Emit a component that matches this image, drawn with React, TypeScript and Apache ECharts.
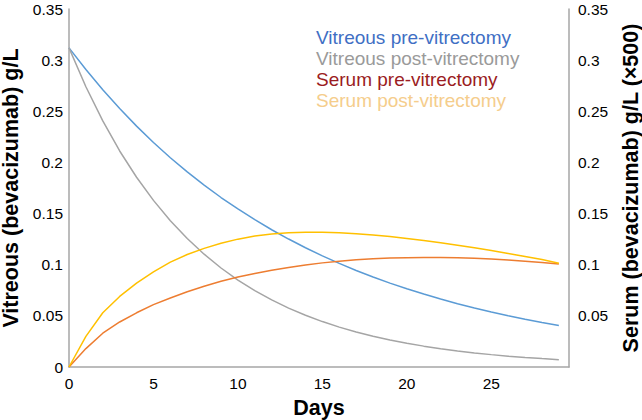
import React, { useEffect, useRef } from "react";
import * as echarts from "echarts";

const days = [0, 1, 2, 3, 4, 5, 6, 7, 8, 9, 10, 11, 12, 13, 14, 15, 16, 17, 18, 19, 20, 21, 22, 23, 24, 25, 26, 27, 28, 29];

const vitreousPre = [0.312, 0.2908, 0.2711, 0.2527, 0.2355, 0.2195, 0.2046, 0.1907, 0.1778, 0.1657, 0.1545, 0.144, 0.1342, 0.1251, 0.1166, 0.1087, 0.1013, 0.0944, 0.088, 0.082, 0.0765, 0.0713, 0.0664, 0.0619, 0.0577, 0.0538, 0.0502, 0.0467, 0.0436, 0.0406];

const vitreousPost = [0.312, 0.274, 0.2406, 0.2112, 0.1855, 0.1629, 0.143, 0.1256, 0.1103, 0.0968, 0.085, 0.0747, 0.0656, 0.0576, 0.0506, 0.0444, 0.039, 0.0342, 0.0301, 0.0264, 0.0232, 0.0204, 0.0179, 0.0157, 0.0138, 0.0121, 0.0106, 0.0093, 0.0082, 0.0072];

const serumPre = [0, 0.018, 0.033, 0.044, 0.053, 0.061, 0.0675, 0.0735, 0.079, 0.0838, 0.088, 0.0915, 0.0945, 0.0973, 0.0997, 0.1018, 0.1035, 0.1049, 0.1058, 0.1065, 0.1069, 0.1071, 0.107, 0.1067, 0.1062, 0.1055, 0.1046, 0.1035, 0.1022, 0.1008];

const serumPost = [0, 0.03, 0.053, 0.069, 0.082, 0.093, 0.1025, 0.11, 0.116, 0.121, 0.125, 0.128, 0.13, 0.1312, 0.1317, 0.1317, 0.1312, 0.1303, 0.129, 0.1275, 0.1257, 0.1237, 0.1215, 0.1191, 0.1165, 0.1138, 0.111, 0.1081, 0.105, 0.1015];

const seriesNames = ["Vitreous pre-vitrectomy", "Vitreous post-vitrectomy", "Serum pre-vitrectomy", "Serum post-vitrectomy"];
const lineColors = ["#5b9bd5", "#a5a5a5", "#ed7d31", "#ffc000"];
const legendColors = ["#3f6fc4", "#9a9a9a", "#9b1c22", "#f5cd8c"];

const FONT = "'Liberation Sans', Arial, sans-serif";

export default function App() {
  const ref = useRef<HTMLDivElement>(null);
  useEffect(() => {
    const chart = echarts.init(ref.current!, null, { renderer: "svg" });
    const seriesData = [vitreousPre, vitreousPost, serumPre, serumPost];
    const axisLine = { show: true, lineStyle: { color: "#a6a6a6", width: 1.5 } };
    const nameStyle = { fontWeight: "bold" as const, fontSize: 21.5, lineHeight: 22, color: "#000", fontFamily: FONT };
    const yCommon = {
      type: "value" as const,
      min: 0,
      max: 0.35,
      interval: 0.05,
      axisLine,
      axisTick: { show: false },
      splitLine: { show: false },
      nameLocation: "middle" as const,
      nameRotate: 90,
      nameTextStyle: nameStyle,
    };
    chart.setOption({
      animation: false,
      grid: { left: 69, right: 73, top: 9, bottom: 53, containLabel: false, outerBoundsMode: "none" },
      legend: {
        orient: "vertical",
        left: 306,
        top: 22,
        icon: "none",
        itemWidth: 0,
        itemHeight: 21,
        itemGap: 0,
        selectedMode: false,
        textStyle: { fontSize: 19, fontFamily: FONT, lineHeight: 21 },
        data: seriesNames.map((n, i) => ({ name: n, textStyle: { color: legendColors[i] } })),
      },
      xAxis: {
        type: "value",
        min: 0,
        max: 29.6,
        interval: 5,
        axisLine,
        axisTick: { show: false },
        splitLine: { show: false },
        axisLabel: { color: "#000", fontSize: 15.5, fontFamily: FONT, margin: 8, showMaxLabel: false },
        name: "Days",
        nameLocation: "middle",
        nameGap: 30,
        nameTextStyle: { fontWeight: "bold", fontSize: 21.5, color: "#000", fontFamily: FONT },
      },
      yAxis: [
        {
          ...yCommon,
          position: "left",
          name: "Vitreous (bevacizumab) g/L",
          nameGap: 46,
          axisLabel: { color: "#000", fontSize: 15.5, fontFamily: FONT, margin: 6 },
        },
        {
          ...yCommon,
          position: "right",
          name: "Serum (bevacizumab) g/L (×500)",
          nameGap: 51,
          axisLabel: { color: "#000", fontSize: 15.5, fontFamily: FONT, margin: 9, showMinLabel: false },
        },
      ],
      series: seriesNames.map((n, i) => ({
        name: n,
        type: "line",
        yAxisIndex: i < 2 ? 0 : 1,
        showSymbol: false,
        symbol: "none",
        smooth: false,
        lineStyle: { color: lineColors[i], width: 1.5 },
        itemStyle: { color: lineColors[i] },
        data: days.map((d, j) => [d, seriesData[i][j]]),
      })),
    });
    return () => chart.dispose();
  }, []);
  return <div ref={ref} style={{ position: "fixed", left: 0, top: 0, width: 642, height: 420, background: "#fff" }} />;
}
